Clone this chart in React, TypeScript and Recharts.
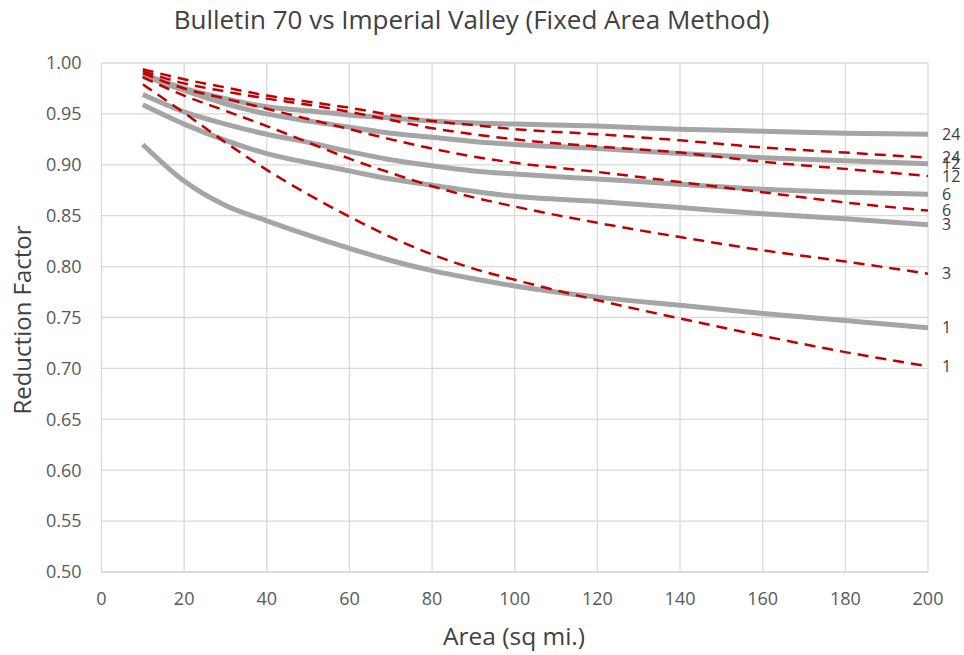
import React from "react";
import { LineChart, Line, XAxis, YAxis, CartesianGrid } from "recharts";

const areas = [10, 20, 30, 40, 50, 60, 70, 80, 90, 100, 120, 140, 160, 180, 200];

// Imperial Valley (gray solid)
const iv24 = [0.989, 0.975, 0.965, 0.957, 0.953, 0.949, 0.946, 0.943, 0.941, 0.94, 0.938, 0.935, 0.933, 0.931, 0.93];
const iv12 = [0.988, 0.973, 0.96, 0.95, 0.943, 0.937, 0.931, 0.927, 0.923, 0.92, 0.916, 0.911, 0.907, 0.904, 0.901];
const iv6 = [0.969, 0.952, 0.94, 0.93, 0.922, 0.913, 0.905, 0.899, 0.894, 0.891, 0.886, 0.881, 0.876, 0.873, 0.871];
const iv3 = [0.959, 0.94, 0.924, 0.911, 0.902, 0.894, 0.886, 0.88, 0.874, 0.869, 0.864, 0.858, 0.852, 0.847, 0.841];
const iv1 = [0.92, 0.884, 0.86, 0.845, 0.831, 0.818, 0.806, 0.796, 0.788, 0.781, 0.77, 0.762, 0.754, 0.747, 0.74];

// Bulletin 70 (red dashed)
const b24 = [0.994, 0.984, 0.976, 0.968, 0.962, 0.956, 0.949, 0.943, 0.939, 0.935, 0.93, 0.924, 0.917, 0.912, 0.907];
const b12 = [0.992, 0.98, 0.972, 0.965, 0.959, 0.952, 0.944, 0.936, 0.93, 0.925, 0.918, 0.912, 0.903, 0.896, 0.889];
const b6 = [0.99, 0.975, 0.965, 0.955, 0.945, 0.935, 0.925, 0.916, 0.908, 0.902, 0.893, 0.883, 0.873, 0.863, 0.855];
const b3 = [0.986, 0.968, 0.953, 0.938, 0.922, 0.906, 0.892, 0.879, 0.868, 0.859, 0.843, 0.829, 0.816, 0.805, 0.793];
const b1 = [0.979, 0.951, 0.922, 0.895, 0.871, 0.849, 0.829, 0.812, 0.798, 0.787, 0.767, 0.749, 0.732, 0.716, 0.702];

const xTicks = [0, 20, 40, 60, 80, 100, 120, 140, 160, 180, 200];
const yTicks = [0.5, 0.55, 0.6, 0.65, 0.7, 0.75, 0.8, 0.85, 0.9, 0.95, 1.0];

const grayKeys = [
  { key: "iv24", label: "24", values: iv24 },
  { key: "iv12", label: "12", values: iv12 },
  { key: "iv6", label: "6", values: iv6 },
  { key: "iv3", label: "3", values: iv3 },
  { key: "iv1", label: "1", values: iv1 },
];
const redKeys = [
  { key: "b24", label: "24", values: b24 },
  { key: "b12", label: "12", values: b12 },
  { key: "b6", label: "6", values: b6 },
  { key: "b3", label: "3", values: b3 },
  { key: "b1", label: "1", values: b1 },
];

const data = areas.map((a, i) => {
  const row: any = { area: a };
  grayKeys.forEach((s) => (row[s.key] = s.values[i]));
  redKeys.forEach((s) => (row[s.key] = s.values[i]));
  return row;
});

const FONT = "'Open Sans', 'DejaVu Sans', sans-serif";

const endLabel = (text: string) => (props: any) => {
  const { x, y, index } = props;
  const isLast = index === areas.length - 1 || (index === undefined && x > 900);
  if (!isLast) return <g key={`l-${text}-${index}`} />;
  return (
    <text
      key={`l-${text}-${index}`}
      x={x + 14}
      y={y}
      dy="0.35em"
      fontSize={16}
      fill="#404040"
      fontFamily={FONT}
    >
      {text}
    </text>
  );
};

export default function App() {
  return (
    <div style={{ position: "absolute", left: 0, top: 0, width: 964, height: 655, background: "#fff", fontFamily: FONT }}>
      <div
        style={{
          position: "absolute",
          left: 0,
          width: 943,
          top: 0,
          textAlign: "center",
          fontSize: 26,
          lineHeight: "38px",
          color: "#404040",
        }}
      >
        Bulletin 70 vs Imperial Valley (Fixed Area Method)
      </div>
      <LineChart
        width={964}
        height={655}
        data={data}
        margin={{ top: 63, right: 36, left: 0, bottom: 0 }}
      >
        <CartesianGrid stroke="#d9d9d9" strokeWidth={1.3} />
        <XAxis
          dataKey="area"
          type="number"
          domain={[0, 200]}
          ticks={xTicks}
          height={83}
          axisLine={{ stroke: "#d9d9d9", strokeWidth: 1.3 }}
          tickLine={false}
          tickSize={0}
          tickMargin={20}
          tick={{ fill: "#595959", fontSize: 18, fontFamily: FONT }}
        />
        <YAxis
          type="number"
          domain={[0.5, 1]}
          ticks={yTicks}
          width={101.5}
          axisLine={false}
          tickLine={false}
          tickSize={0}
          tickMargin={20}
          tickFormatter={(v: number) => v.toFixed(2)}
          tick={{ fill: "#595959", fontSize: 18, fontFamily: FONT }}
        />
        {grayKeys.map((s) => (
          <Line
            key={s.key}
            dataKey={s.key}
            type="monotone"
            stroke="#a5a5a5"
            strokeWidth={5}
            dot={false}
            isAnimationActive={false}
            label={endLabel(s.label)}
          />
        ))}
        {redKeys.map((s) => (
          <Line
            key={s.key}
            dataKey={s.key}
            type="monotone"
            stroke="#c00000"
            strokeWidth={2.5}
            strokeDasharray="11 7"
            dot={false}
            isAnimationActive={false}
            label={endLabel(s.label)}
          />
        ))}
      </LineChart>
      <div
        style={{
          position: "absolute",
          left: 0,
          width: 1028,
          top: 619,
          textAlign: "center",
          fontSize: 24.5,
          lineHeight: "34px",
          color: "#404040",
        }}
      >
        Area (sq mi.)
      </div>
      <div
        style={{
          position: "absolute",
          left: 22,
          top: 320,
          transform: "translate(-50%, -50%) rotate(-90deg)",
          whiteSpace: "nowrap",
          fontSize: 24,
          lineHeight: "34px",
          color: "#404040",
        }}
      >
        Reduction Factor
      </div>
    </div>
  );
}
